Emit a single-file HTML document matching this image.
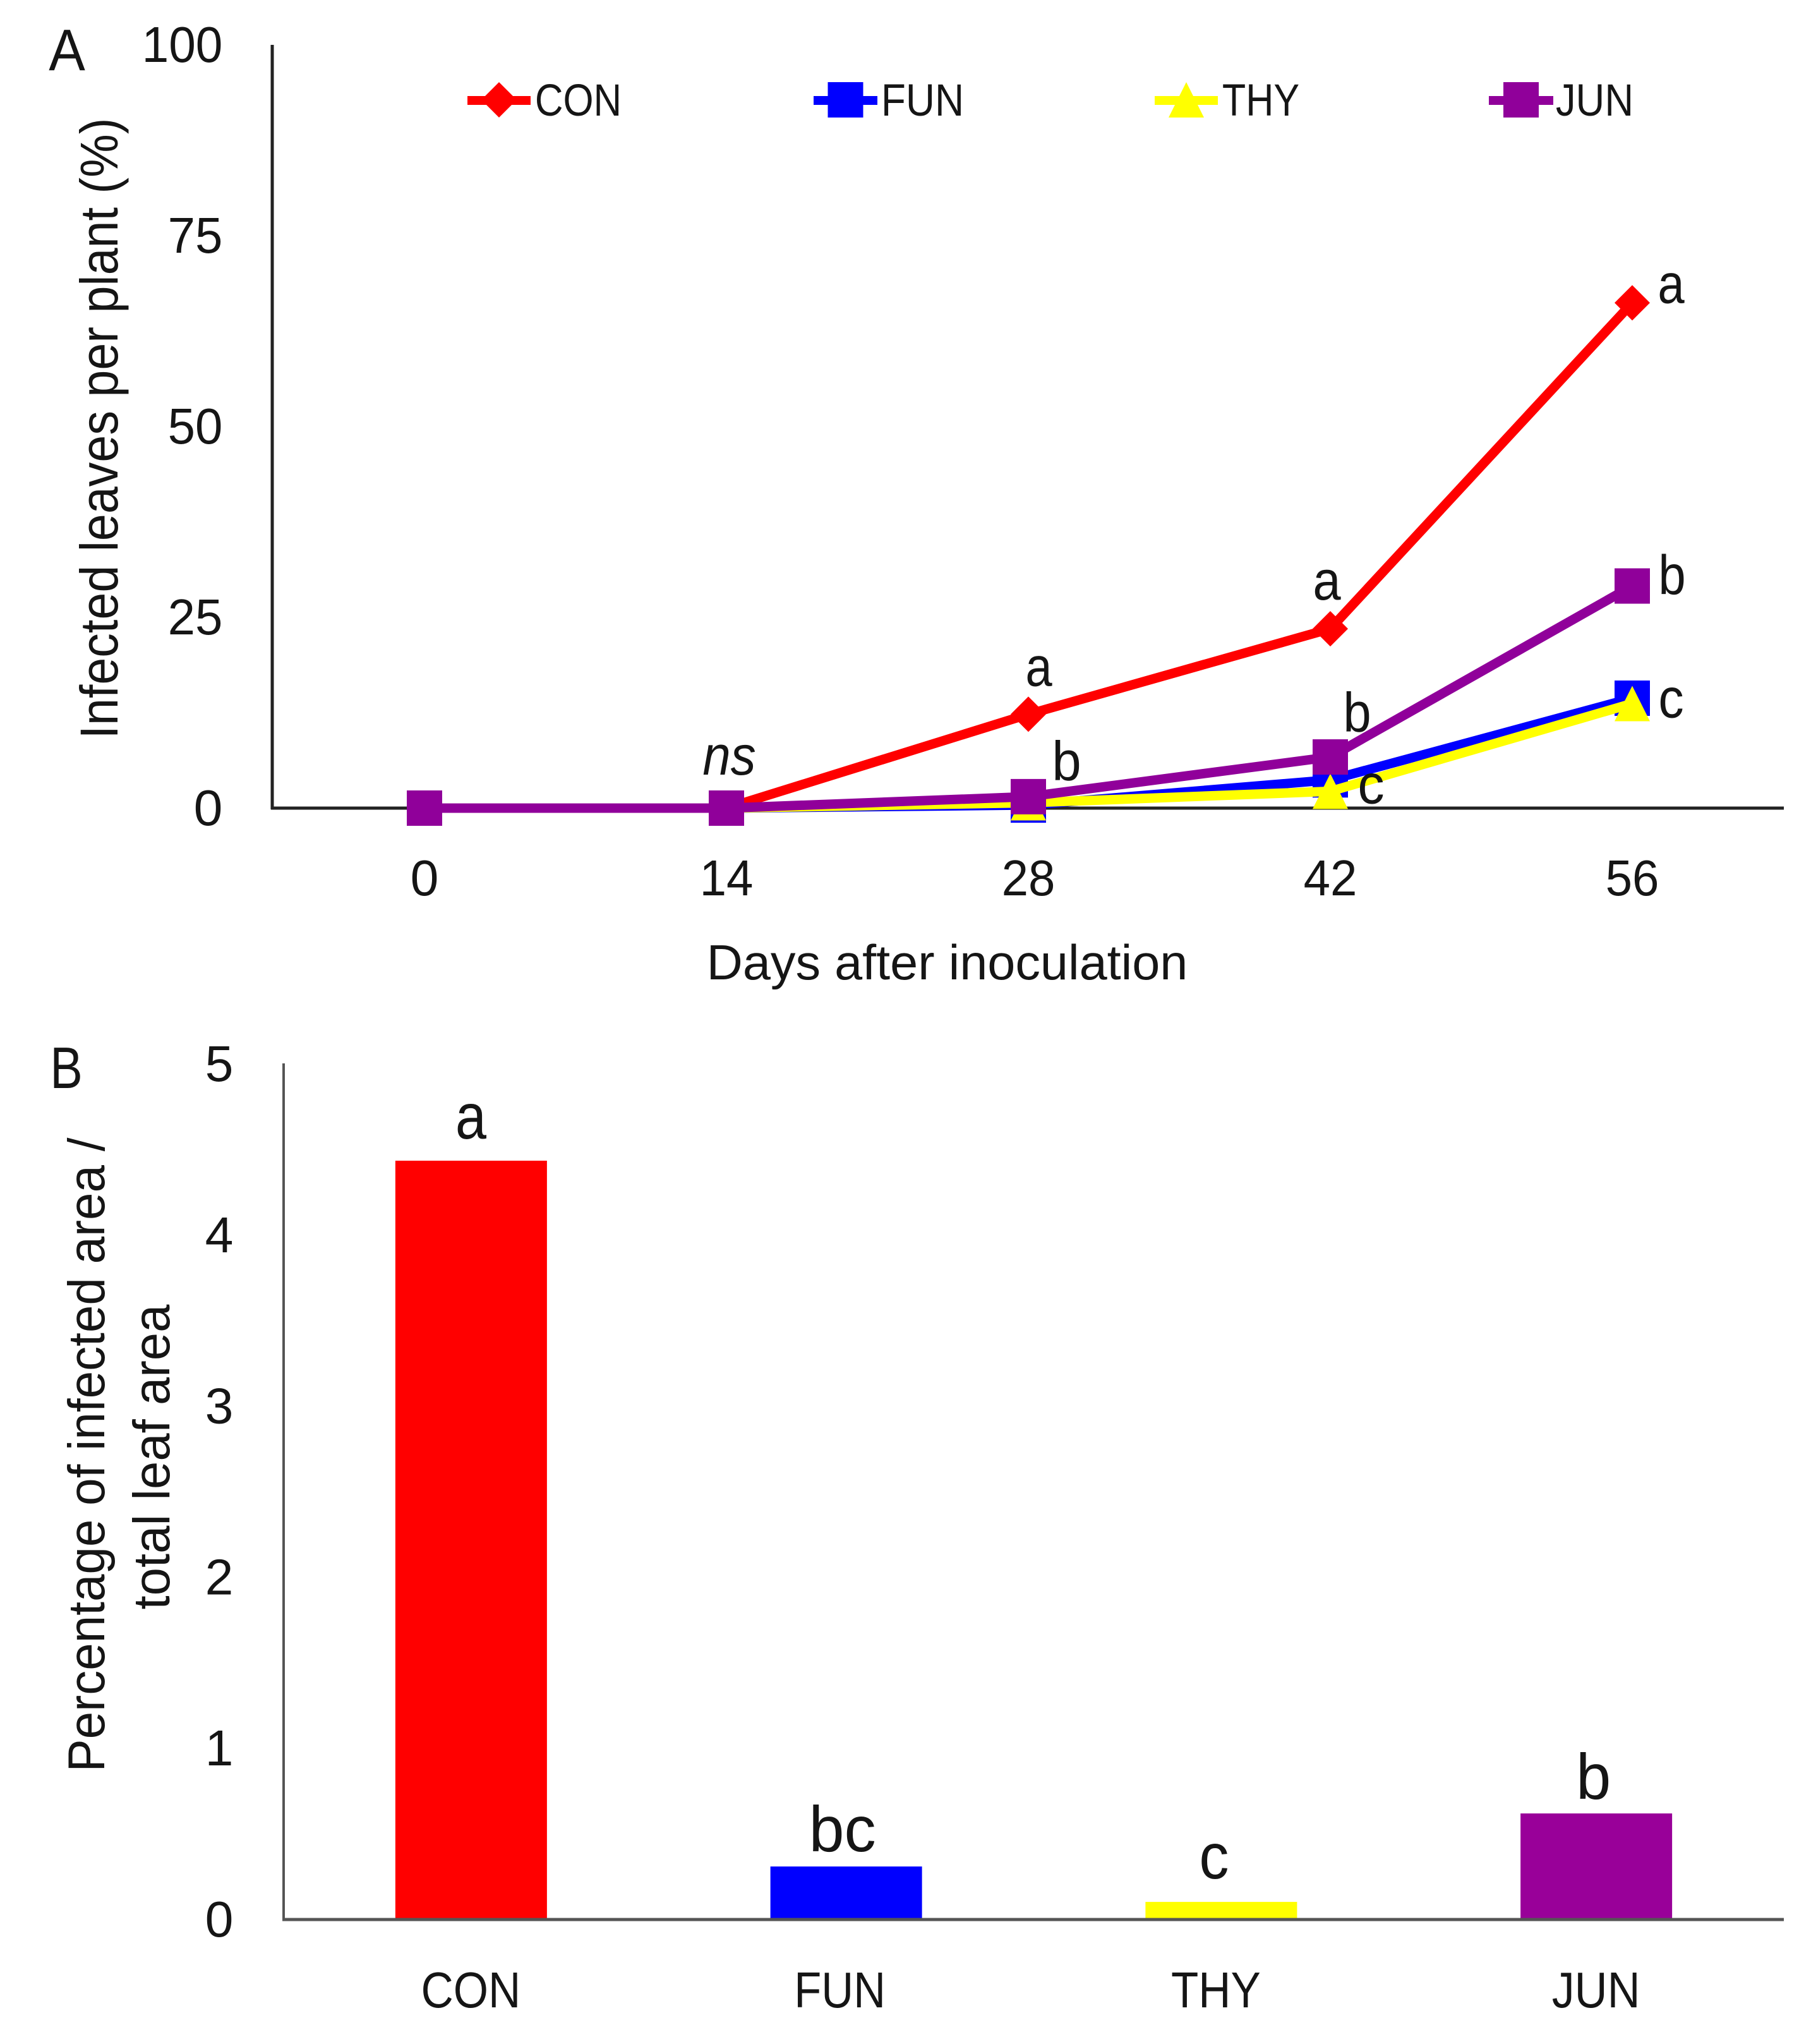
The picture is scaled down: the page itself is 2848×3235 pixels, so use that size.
<!DOCTYPE html>
<html lang="en">
<head>
<meta charset="utf-8">
<title>Infected leaves and infected area by treatment</title>
<style>
  html, body { margin: 0; padding: 0; background: #ffffff; }
  svg { display: block; }
  text { font-family: "Liberation Sans", sans-serif; fill: #151515; }
</style>
</head>
<body>
<svg id="figure" xmlns="http://www.w3.org/2000/svg" width="2848" height="3235" viewBox="0 0 2848 3235">
  <rect x="0" y="0" width="2848" height="3235" fill="#ffffff"/>
</svg>
<script>
// Panel A data
const days = [0, 14, 28, 42, 56];
const conValues = [0, 0, 12.3, 23.5, 66.2];
const funValues = [0, 0, 0.4, 3.7, 14.4];
const thyValues = [0, 0, 0.7, 2.2, 13.7];
const junValues = [0, 0, 1.5, 6.7, 29.1];
const lineTicks = [0, 25, 50, 75, 100];

// Panel B data
const barCategories = ['CON', 'FUN', 'THY', 'JUN'];
const barValues = [4.435, 0.31, 0.103, 0.62];
const barTicks = [0, 1, 2, 3, 4, 5];

const svg = document.getElementById('figure');
const NS = 'http://www.w3.org/2000/svg';
const RED = '#ff0000', BLUE = '#0000ff', YELLOW = '#ffff00', PURPLE = '#90009a';

// Axis functions
function xA(day) { return 672 + day * 478 / 14; }
function yA(v) { return 1279 - v * 12.08; }
function xB(i) { return 449 + (i + 0.5) * 593.75; }
function yB(v) { return 3038 - v * 270.8; }

function makeShape(tag, name, attrs) {
  const el = document.createElementNS(NS, tag);
  
  
  for (const k in attrs) el.setAttribute(k, attrs[k]);
  svg.appendChild(el);
  return el;
}

// x, y and len describe the visible ink; a small padding compensates for glyph side bearings.
function makeText(name, str, x, y, size, len, opts) {
  const o = opts || {};
  const pad = size * 0.03;
  let px = x;
  let py = y;
  if (o.rotate) py = y + pad;
  else if (o.anchor === 'end') px = x + pad;
  else if (o.anchor !== 'middle') px = x - pad;
  const el = document.createElementNS(NS, 'text');
  
  
  el.setAttribute('x', px);
  el.setAttribute('y', py);
  el.setAttribute('font-size', size);
  el.setAttribute('textLength', len + 2 * pad);
  el.setAttribute('lengthAdjust', 'spacingAndGlyphs');
  if (o.anchor) el.setAttribute('text-anchor', o.anchor);
  if (o.italic) el.setAttribute('font-style', 'italic');
  if (o.rotate) el.setAttribute('transform', 'rotate(-90 ' + px + ' ' + py + ')');
  el.textContent = str;
  svg.appendChild(el);
  return el;
}

function drawMarker(kind, name, cx, cy, color) {
  const h = 28;
  if (kind === 'diamond') {
    makeShape('polygon', name, { points: [cx, cy - h, cx + h, cy, cx, cy + h, cx - h, cy].join(' '), fill: color });
  } else if (kind === 'triangle') {
    makeShape('polygon', name, { points: [cx, cy - h, cx + h, cy + h, cx - h, cy + h].join(' '), fill: color });
  } else {
    makeShape('rect', name, { x: cx - h, y: cy - h, width: 2 * h, height: 2 * h, fill: color });
  }
}

// ---------- Panel A ----------
makeText('panel-a-label', 'A', 80, 111, 93, 52);

makeShape('line', 'panel-a-y-axis', { x1: 431, y1: 71, x2: 431, y2: 1281, stroke: '#222222', 'stroke-width': 5 });
makeShape('line', 'panel-a-x-axis', { x1: 429, y1: 1279, x2: 2824, y2: 1279, stroke: '#222222', 'stroke-width': 5 });

lineTicks.forEach(function (t) {
  const label = String(t);
  makeText('panel-a-y-tick-' + label, label, 350, yA(t) + 27, 80, 41 * label.length, { anchor: 'end' });
});
days.forEach(function (d) {
  const label = String(d);
  makeText('panel-a-x-tick-' + label, label, xA(d), 1417, 80, 40 * label.length, { anchor: 'middle' });
});

makeText('panel-a-y-axis-title', 'Infected leaves per plant (%)', 186, 1167, 84, 978, { rotate: true });
makeText('panel-a-x-axis-title', 'Days after inoculation', 1121, 1550, 78, 757);

const lineSeries = [
  { key: 'con', values: conValues, color: RED, marker: 'diamond' },
  { key: 'fun', values: funValues, color: BLUE, marker: 'square' },
  { key: 'thy', values: thyValues, color: YELLOW, marker: 'triangle' },
  { key: 'jun', values: junValues, color: PURPLE, marker: 'square' }
];
lineSeries.forEach(function (s) {
  const pts = days.map(function (d, i) { return xA(d) + ',' + yA(s.values[i]); }).join(' ');
  makeShape('polyline', 'line-' + s.key, { points: pts, fill: 'none', stroke: s.color, 'stroke-width': 15, 'stroke-linejoin': 'round' });
  days.forEach(function (d, i) {
    drawMarker(s.marker, 'point-' + s.key + '-day-' + d, xA(d), yA(s.values[i]), s.color);
  });
});

// Significance letters, anchored to their data points
makeText('significance-ns-day-14', 'ns', xA(14) - 35, yA(0) - 53, 88, 79, { italic: true });
makeText('significance-a-day-28', 'a', xA(28) - 2, yA(conValues[2]) - 45, 88, 37);
makeText('significance-a-day-42', 'a', xA(42) - 25, yA(conValues[3]) - 46, 88, 39);
makeText('significance-a-day-56', 'a', xA(56) + 43, yA(conValues[4]), 88, 37);
makeText('significance-b-day-28', 'b', xA(28) + 40, yA(junValues[2]) - 26, 88, 41);
makeText('significance-b-day-42', 'b', xA(42) + 23, yA(junValues[3]) - 40, 88, 39);
makeText('significance-b-day-56', 'b', xA(56) + 44, yA(junValues[4]) + 13, 88, 38);
makeText('significance-c-day-42', 'c', xA(42) + 46, yA(thyValues[3]) + 19, 88, 37);
makeText('significance-c-day-56', 'c', xA(56) + 44, yA(thyValues[4]) + 22, 88, 35);

// Legend
function legendEntry(key, label, marker, color, lineStart, lineEnd, textX, textLen) {
  const cx = (lineStart + lineEnd) / 2;
  makeShape('line', 'legend-line-' + key, { x1: lineStart, y1: 159, x2: lineEnd, y2: 159, stroke: color, 'stroke-width': 14 });
  drawMarker(marker, 'legend-marker-' + key, cx, 158, color);
  makeText('legend-label-' + key, label, textX, 183, 71, textLen);
}
legendEntry('con', 'CON', 'diamond', RED, 740, 840, 849, 133);
legendEntry('fun', 'FUN', 'square', BLUE, 1288, 1389, 1397, 127);
legendEntry('thy', 'THY', 'triangle', YELLOW, 1828, 1928, 1937, 118);
legendEntry('jun', 'JUN', 'square', PURPLE, 2357, 2459, 2465, 119);

// ---------- Panel B ----------
makeText('panel-b-label', 'B', 82, 1722, 93, 46);

const barColors = ['#ff0000', '#0000ff', '#ffff00', '#990099'];
barCategories.forEach(function (cat, i) {
  makeShape('rect', 'bar-' + cat.toLowerCase(), {
    x: xB(i) - 120, y: yB(barValues[i]), width: 240, height: yB(0) - yB(barValues[i]), fill: barColors[i]
  });
});

makeShape('line', 'panel-b-y-axis', { x1: 449, y1: 1683, x2: 449, y2: 3040, stroke: '#555555', 'stroke-width': 4 });
makeShape('line', 'panel-b-x-axis', { x1: 447, y1: 3038, x2: 2824, y2: 3038, stroke: '#555555', 'stroke-width': 5 });

barTicks.forEach(function (t) {
  const label = String(t);
  makeText('panel-b-y-tick-' + label, label, 367, yB(t) + 27, 80, 40, { anchor: 'end' });
});
makeText('panel-b-x-tick-con', barCategories[0], xB(0) - 77, 3177, 80, 153);
makeText('panel-b-x-tick-fun', barCategories[1], xB(1) - 80, 3177, 80, 140);
makeText('panel-b-x-tick-thy', barCategories[2], xB(2) - 77, 3177, 80, 137);
makeText('panel-b-x-tick-jun', barCategories[3], xB(3) - 68, 3177, 80, 135);

makeText('panel-b-y-axis-title-line-1', 'Percentage of infected area /', 165, 2802, 82, 999, { rotate: true });
makeText('panel-b-y-axis-title-line-2', 'total leaf area', 268, 2545, 82, 478, { rotate: true });

makeText('bar-letter-con', 'a', xB(0) - 22, yB(barValues[0]) - 35, 102, 43);
makeText('bar-letter-fun', 'bc', xB(1) - 56, yB(barValues[1]) - 24, 102, 100);
makeText('bar-letter-thy', 'c', xB(2) - 32, yB(barValues[2]) - 37, 102, 41);
makeText('bar-letter-jun', 'b', xB(3) - 29, yB(barValues[3]) - 23, 102, 49);
</script>
</body>
</html>
